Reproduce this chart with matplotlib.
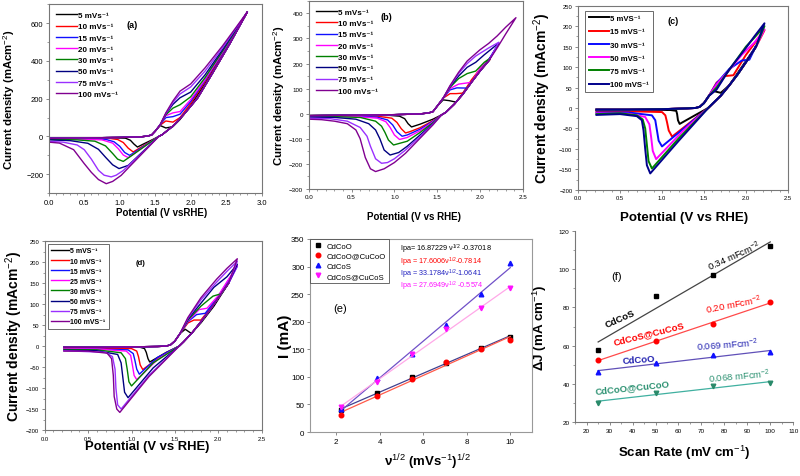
import matplotlib
matplotlib.use("Agg")
import matplotlib.pyplot as plt
import numpy as np

plt.rcParams['font.family'] = ['Liberation Sans', 'DejaVu Sans']
plt.rcParams['mathtext.fontset'] = 'custom'
plt.rcParams['mathtext.rm'] = 'Liberation Sans'
plt.rcParams['mathtext.it'] = 'Liberation Sans:italic'
plt.rcParams['mathtext.bf'] = 'Liberation Sans:bold'

# ---------------- panel (a) ----------------
a_rates = ["5", "10", "15", "20", "30", "50", "75", "100"]
a_colors = ["black", "red", "#1010ff", "#ff00ff", "#008000", "#000080", "#9a30ff", "#800090"]
a_base_E = [0.0, 0.5, 1.0, 1.3, 1.4]
a_base_J = [-10, -8, -5, -2, 3]
a_fwd_E = [1.45, 1.5, 1.57, 1.65, 1.75, 1.85, 2.0, 2.2, 2.45, 2.8]
a_fwd_J = [
    [8, 28, 58, 45, 52, 90, 165, 280, 435, 660],
    [8, 28, 60, 82, 76, 100, 175, 288, 440, 660],
    [8, 28, 62, 100, 105, 118, 185, 295, 445, 660],
    [8, 28, 62, 110, 125, 132, 195, 300, 448, 660],
    [8, 28, 62, 115, 150, 168, 210, 310, 452, 660],
    [8, 28, 62, 120, 170, 205, 235, 325, 460, 660],
    [8, 28, 62, 122, 180, 225, 262, 345, 470, 660],
    [8, 28, 62, 125, 188, 240, 278, 362, 480, 660],
]
a_rev_E = [2.55, 2.3, 2.1, 1.9, 1.75, 1.6]
a_rev_J = [490, 330, 205, 115, 55, 10]
a_cat_E = [
    [1.55, 1.45, 1.35, 1.25, 1.2, 1.15, 1.08, 0.9, 0.0],
    [1.55, 1.45, 1.3, 1.19, 1.12, 1.05, 0.97, 0.85, 0.4, 0.0],
    [1.55, 1.45, 1.3, 1.2, 1.14, 1.07, 1.0, 0.92, 0.8, 0.4, 0.0],
    [1.55, 1.45, 1.3, 1.2, 1.12, 1.05, 0.98, 0.9, 0.75, 0.4, 0.0],
    [1.55, 1.45, 1.3, 1.15, 1.05, 0.97, 0.9, 0.8, 0.65, 0.4, 0.0],
    [1.55, 1.45, 1.3, 1.12, 0.99, 0.9, 0.8, 0.7, 0.55, 0.3, 0.0],
    [1.55, 1.45, 1.3, 1.05, 0.95, 0.88, 0.78, 0.7, 0.6, 0.5, 0.4, 0.2, 0.0],
    [1.55, 1.45, 1.3, 1.15, 1.02, 0.9, 0.81, 0.7, 0.6, 0.5, 0.35, 0.15, 0.0],
]
a_cat_J = [
    [0, -19, -37, -56, -40, -20, -9, -6, -6],
    [0, -23, -57, -82, -62, -32, -16, -10, -9, -9],
    [0, -24, -61, -86, -100, -85, -52, -28, -15, -11, -10],
    [0, -26, -65, -92, -112, -98, -65, -35, -18, -13, -12],
    [0, -26, -66, -106, -132, -120, -90, -50, -25, -18, -15],
    [0, -36, -89, -153, -170, -150, -110, -68, -36, -22, -18],
    [0, -37, -93, -180, -205, -214, -205, -179, -120, -70, -45, -30, -26],
    [0, -39, -97, -155, -206, -238, -250, -228, -190, -144, -70, -35, -30],
]

# ---------------- panel (b) ----------------
b_base_E = [0.0, 0.5, 1.0, 1.3, 1.4]
b_base_J = [-8, -6, -4, -1, 3]
b_fwd_E = [
    [1.45, 1.5, 1.57, 1.64, 1.72, 1.85, 2.0, 2.12],
    [1.45, 1.5, 1.57, 1.65, 1.72, 1.8, 1.9, 2.0, 2.12],
    [1.45, 1.5, 1.57, 1.65, 1.73, 1.85, 1.95, 2.1, 2.22],
    [1.45, 1.5, 1.57, 1.65, 1.75, 1.9, 2.0, 2.12],
    [1.45, 1.5, 1.57, 1.65, 1.75, 1.85, 1.95, 2.05, 2.12],
    [1.45, 1.5, 1.57, 1.65, 1.75, 1.85, 1.95, 2.05, 2.22],
    [1.45, 1.5, 1.57, 1.65, 1.75, 1.85, 1.95, 2.1, 2.22],
    [1.45, 1.5, 1.57, 1.65, 1.75, 1.85, 2.0, 2.1, 2.2, 2.3, 2.42],
]
b_fwd_J = [
    [8, 30, 55, 52, 46, 105, 175, 218],
    [8, 30, 62, 80, 80, 82, 135, 178, 218],
    [8, 30, 62, 95, 103, 102, 150, 215, 280],
    [8, 30, 62, 100, 118, 125, 180, 220],
    [8, 30, 62, 105, 140, 160, 170, 205, 222],
    [8, 30, 62, 108, 150, 185, 205, 235, 282],
    [8, 30, 62, 110, 160, 200, 230, 262, 285],
    [8, 30, 62, 112, 165, 210, 255, 280, 310, 345, 383],
]
b_rev_E = [2.3, 2.2, 2.1, 2.0, 1.9, 1.8, 1.7, 1.6]
b_rev_J = [318, 262, 210, 170, 125, 78, 38, 5]
b_cat_E = [
    [1.55, 1.45, 1.3, 1.2, 1.16, 1.12, 1.06, 0.95, 0.0],
    [1.55, 1.45, 1.3, 1.18, 1.13, 1.08, 1.03, 0.97, 0.8, 0.0],
    [1.55, 1.45, 1.3, 1.15, 1.09, 1.03, 0.98, 0.92, 0.8, 0.4, 0.0],
    [1.55, 1.45, 1.3, 1.15, 1.06, 1.0, 0.95, 0.9, 0.8, 0.5, 0.0],
    [1.55, 1.45, 1.3, 1.15, 0.99, 0.93, 0.89, 0.85, 0.78, 0.6, 0.3, 0.0],
    [1.55, 1.45, 1.3, 1.15, 1.05, 0.95, 0.88, 0.83, 0.78, 0.7, 0.55, 0.3, 0.0],
    [1.55, 1.45, 1.3, 1.13, 1.0, 0.92, 0.85, 0.78, 0.72, 0.68, 0.6, 0.45, 0.25, 0.0],
    [1.55, 1.45, 1.3, 1.13, 1.0, 0.88, 0.78, 0.72, 0.66, 0.6, 0.55, 0.45, 0.3, 0.15, 0.0],
]
b_cat_J = [
    [-5, -22, -42, -53, -40, -20, -10, -7, -7],
    [-5, -28, -56, -72, -77, -60, -35, -18, -10, -8],
    [-5, -30, -62, -85, -90, -72, -45, -25, -14, -9, -9],
    [-5, -33, -68, -95, -103, -85, -55, -32, -18, -10, -10],
    [-5, -36, -75, -110, -125, -105, -75, -50, -30, -15, -12, -11],
    [-5, -40, -85, -130, -155, -165, -145, -100, -65, -40, -22, -15, -14],
    [-5, -42, -92, -145, -180, -195, -198, -180, -130, -90, -55, -30, -20, -18],
    [-5, -45, -98, -158, -195, -220, -231, -220, -175, -100, -65, -40, -30, -24, -22],
]

# ---------------- panel (c) ----------------
c_rates = ["5", "15", "30", "50", "75", "100"]
c_colors = ["black", "red", "#0a0aff", "#ff00ff", "#008000", "#00008b"]
c_base_E = [0.22, 0.6, 1.0, 1.3, 1.4]
c_base_J = [-4, -4, -3, -1, 0]
c_fwd_E = [
    [1.45, 1.5, 1.56, 1.62, 1.7, 1.8, 1.95, 2.12],
    [1.45, 1.5, 1.56, 1.65, 1.75, 1.85, 2.0, 2.22],
    [1.45, 1.5, 1.56, 1.65, 1.8, 1.95, 2.04, 2.12],
    [1.45, 1.5, 1.56, 1.65, 1.8, 1.95, 2.1, 2.22],
    [1.45, 1.5, 1.56, 1.65, 1.8, 2.0, 2.1, 2.22],
    [1.45, 1.5, 1.56, 1.65, 1.8, 2.0, 2.1, 2.22],
]
c_fwd_J = [
    [3, 12, 30, 41, 37, 55, 100, 150],
    [3, 12, 30, 62, 78, 80, 130, 190],
    [3, 12, 30, 60, 95, 116, 118, 152],
    [3, 12, 30, 58, 92, 130, 160, 192],
    [3, 12, 30, 50, 93, 150, 172, 200],
    [3, 12, 30, 45, 94, 147, 175, 207],
]
c_rev_E = [2.12, 2.0, 1.9, 1.8, 1.7, 1.6]
c_rev_J = [150, 112, 82, 55, 30, 10]
c_cat_E = [
    [1.55, 1.4, 1.21, 1.19, 1.18, 1.17, 1.1, 0.22],
    [1.55, 1.3, 1.12, 1.08, 1.06, 1.04, 1.0, 0.6, 0.22],
    [1.55, 1.3, 1.0, 0.96, 0.94, 0.92, 0.88, 0.6, 0.22],
    [1.55, 1.25, 0.93, 0.89, 0.87, 0.85, 0.8, 0.6, 0.22],
    [1.55, 1.2, 0.88, 0.84, 0.82, 0.8, 0.77, 0.7, 0.5, 0.22],
    [1.55, 1.2, 0.86, 0.82, 0.8, 0.78, 0.76, 0.7, 0.5, 0.22],
]
c_cat_J = [
    [0, -17, -39, -30, -15, -7, -5, -5],
    [0, -41, -70, -55, -35, -18, -10, -8, -9],
    [0, -43, -94, -80, -55, -30, -18, -11, -11],
    [0, -56, -125, -105, -70, -40, -22, -14, -13],
    [0, -74, -148, -130, -90, -50, -28, -18, -13, -15],
    [0, -80, -160, -140, -100, -55, -30, -20, -15, -17],
]

# ---------------- panel (d) ----------------
d_rates = ["5", "10", "15", "25", "30", "50", "75", "100"]
d_base_E = [0.22, 0.6, 1.0, 1.3, 1.4]
d_base_J = [-3, -3, -2, -1, 0]
d_fwd_E = [
    [1.45, 1.5, 1.56, 1.62, 1.69, 1.8, 1.95, 2.12],
    [1.45, 1.5, 1.56, 1.65, 1.72, 1.8, 1.95, 2.12],
    [1.45, 1.5, 1.56, 1.65, 1.75, 1.85, 2.0, 2.22],
    [1.45, 1.5, 1.56, 1.65, 1.78, 1.87, 2.0, 2.22],
    [1.45, 1.5, 1.56, 1.65, 1.8, 1.94, 2.04, 2.12],
    [1.45, 1.5, 1.56, 1.65, 1.8, 1.95, 2.1, 2.22],
    [1.45, 1.5, 1.56, 1.65, 1.8, 1.98, 2.1, 2.22],
    [1.45, 1.5, 1.56, 1.65, 1.8, 1.98, 2.1, 2.22],
]
d_fwd_J = [
    [3, 12, 30, 40, 30, 55, 95, 150],
    [3, 12, 30, 55, 62, 62, 100, 150],
    [3, 12, 30, 58, 75, 78, 118, 190],
    [3, 12, 30, 60, 87, 90, 120, 192],
    [3, 12, 30, 62, 95, 119, 125, 150],
    [3, 12, 30, 64, 102, 140, 165, 195],
    [3, 12, 30, 66, 110, 152, 178, 202],
    [3, 12, 30, 68, 115, 159, 185, 208],
]
d_rev_E = [2.12, 2.0, 1.9, 1.8, 1.7, 1.6]
d_rev_J = [150, 115, 85, 58, 32, 10]
d_cat_E = [
    [1.55, 1.4, 1.21, 1.19, 1.17, 1.15, 1.1, 0.22],
    [1.55, 1.35, 1.13, 1.1, 1.08, 1.06, 1.0, 0.22],
    [1.55, 1.3, 1.09, 1.06, 1.04, 1.02, 0.96, 0.22],
    [1.55, 1.3, 1.06, 1.03, 1.01, 0.99, 0.94, 0.6, 0.22],
    [1.55, 1.25, 1.0, 0.97, 0.95, 0.93, 0.88, 0.6, 0.22],
    [1.55, 1.25, 0.96, 0.92, 0.9, 0.88, 0.84, 0.6, 0.22],
    [1.55, 1.2, 0.88, 0.84, 0.82, 0.81, 0.78, 0.7, 0.22],
    [1.55, 1.2, 0.865, 0.83, 0.8, 0.79, 0.77, 0.72, 0.5, 0.22],
]
d_cat_J = [
    [0, -15, -38, -30, -15, -6, -3, -3],
    [0, -22, -56, -45, -25, -12, -6, -4],
    [0, -27, -67, -55, -35, -18, -9, -5],
    [0, -32, -80, -70, -45, -22, -12, -7, -6],
    [0, -40, -95, -85, -55, -30, -16, -9, -8],
    [0, -52, -123, -110, -75, -40, -20, -11, -10],
    [0, -70, -150, -140, -100, -55, -25, -15, -11],
    [0, -73, -158, -150, -120, -70, -30, -17, -12, -12],
]

# ---------------- panel (e) ----------------
e_names = ["CdCoO", "CdCoO@CuCoO", "CdCoS", "CdCoS@CuCoS"]
e_x = [2.236, 3.873, 5.477, 7.071, 8.660, 10.0]
e_y = [
    [39.4, 71.6, 100.0, 125.6, 151.6, 172.9],
    [31.5, 65.0, 97.0, 127.4, 150.0, 167.4],
    [42.5, 98.0, 141.0, 194.0, 250.5, 306.0],
    [45.5, 91.0, 140.7, 186.8, 225.6, 260.8],
]
e_eqs = ["Ipa= 16.87229 \u03bd$^{1/2}$ -0.37018", "Ipa = 17.6006\u03bd$^{1/2}$-0.7814",
         "Ipa = 33.1784\u03bd$^{1/2}$-1.0641", "Ipa = 27.6949\u03bd$^{1/2}$ -0.5574"]

# ---------------- panel (f) ----------------
f_names = ["CdCoS", "CdCoS@CuCoS", "CdCoO", "CdCoO@CuCoO"]
f_rate = [25, 50, 75, 100]
f_dj = [
    [57.5, 86.0, 96.8, 112.1],
    [52.3, 62.4, 71.5, 82.8],
    [46.2, 51.0, 54.9, 56.6],
    [30.1, 35.0, 38.8, 40.2],
]
f_cdl = ["0.34 mFcm$^{-2}$", "0.20 mFcm$^{-2}$", "0.069 mFcm$^{-2}$", "0.068 mFcm$^{-2}$"]


def cv_loop(base_E, base_J, fwd_E, fwd_J, rev_E, rev_J, cat_E, cat_J):
    # forward scan, then back down the common return branch, then the cathodic part
    tip = fwd_E[-1]
    keep = [i for i, e in enumerate(rev_E) if e < tip - 0.04]
    E = base_E + fwd_E + [rev_E[i] for i in keep] + cat_E
    J = base_J + fwd_J + [rev_J[i] for i in keep] + cat_J
    return E, J


def style_cv(ax, xlim, ylim, yticks, ystep_minor, tick_fs, spine="#777777"):
    ax.set_xlim(*xlim)
    ax.set_ylim(*ylim)
    ax.set_xticks(np.arange(0, xlim[1] + 0.01, 0.5))
    ax.set_xticklabels([f"{v:.1f}" for v in np.arange(0, xlim[1] + 0.01, 0.5)])
    ax.set_xticks(np.arange(0, xlim[1] + 0.01, 0.1), minor=True)
    ax.set_yticks(yticks)
    ax.set_yticks(np.arange(ylim[0], ylim[1] + 1, ystep_minor), minor=True)
    ax.tick_params(which="major", length=2.5, width=0.6, labelsize=tick_fs, pad=1.5, color=spine)
    ax.tick_params(which="minor", length=1.5, width=0.5, color=spine)
    for s in ax.spines.values():
        s.set_color(spine)
        s.set_linewidth(0.8)


def cv_legend(ax, anchor, size, spacing, frame):
    leg = ax.legend(loc="upper left", bbox_to_anchor=anchor, frameon=frame, fancybox=False,
                    prop={"weight": "bold", "size": size}, handlelength=2.6, handletextpad=0.1,
                    labelspacing=spacing, borderpad=0.5, borderaxespad=0.4)
    if frame:
        leg.get_frame().set_edgecolor("#444444")
        leg.get_frame().set_linewidth(0.7)
    return leg


fig = plt.figure(figsize=(8, 4.77), dpi=100)

# (a)
ax = fig.add_axes([0.061, 0.593, 0.266, 0.396])
for i, r in enumerate(a_rates):
    E, J = cv_loop(a_base_E, a_base_J, a_fwd_E, a_fwd_J[i], a_rev_E, a_rev_J, a_cat_E[i], a_cat_J[i])
    ax.plot(E, J, color=a_colors[i], lw=1.0, label=f"{r} mVs\u207b\u00b9")
style_cv(ax, (0, 3.0), (-300, 700), [-200, 0, 200, 400, 600], 100, 5.5)
ax.set_ylabel("Current density (mAcm$^{-2}$)", fontsize=8.2, fontweight="bold")
ax.yaxis.set_label_coords(-0.15, 0.5)
ax.set_xlabel("Potential (V vsRHE)", fontsize=7, fontweight="bold")
ax.xaxis.set_label_coords(0.528, -0.075)
ax.text(1.18, 595, "(a)", fontsize=6.5, fontweight="bold", ha="center", va="center")
cv_legend(ax, (0.0, 1.0), 5.8, 0.45, False)

# (b)
ax = fig.add_axes([0.386, 0.602, 0.2675, 0.394])
for i, r in enumerate(a_rates):
    E, J = cv_loop(b_base_E, b_base_J, b_fwd_E[i], b_fwd_J[i], b_rev_E, b_rev_J, b_cat_E[i], b_cat_J[i])
    ax.plot(E, J, color=a_colors[i], lw=1.0, label=f"{r} mVs\u207b\u00b9")
style_cv(ax, (0, 2.5), (-300, 450), list(range(-300, 401, 100)), 50, 4.5)
ax.set_ylabel("Current density (mAcm$^{-2}$)", fontsize=8.2, fontweight="bold")
ax.yaxis.set_label_coords(-0.10, 0.5)
ax.set_xlabel("Potential (V vs RHE)", fontsize=7, fontweight="bold")
ax.xaxis.set_label_coords(0.493, -0.12)
ax.text(0.905, 389, "(b)", fontsize=6.5, fontweight="bold", ha="center", va="center")
cv_legend(ax, (0.0, 1.0), 5.8, 0.45, False)

# (c)
ax = fig.add_axes([0.7225, 0.600, 0.2625, 0.386])
for i, r in enumerate(c_rates):
    E, J = cv_loop(c_base_E, c_base_J, c_fwd_E[i], c_fwd_J[i], c_rev_E, c_rev_J, c_cat_E[i], c_cat_J[i])
    ax.plot(E, J, color=c_colors[i], lw=1.4, label=f"{r} mVS\u207b\u00b9")
style_cv(ax, (0, 2.5), (-200, 250), list(range(-200, 251, 50)), 25, 4.2)
ax.set_ylabel("Current density (mAcm$^{-2}$)", fontsize=10, fontweight="bold")
ax.yaxis.set_label_coords(-0.12, 0.5)
ax.set_xlabel("Potential (V vs RHE)", fontsize=9.6, fontweight="bold")
ax.xaxis.set_label_coords(0.505, -0.115)
ax.text(1.13, 213, "(c)", fontsize=6.5, fontweight="bold", ha="center", va="center")
cv_legend(ax, (0.02, 0.99), 5.6, 0.75, True)

# (d)
ax = fig.add_axes([0.056, 0.0964, 0.271, 0.396])
for i, r in enumerate(d_rates):
    E, J = cv_loop(d_base_E, d_base_J, d_fwd_E[i], d_fwd_J[i], d_rev_E, d_rev_J, d_cat_E[i], d_cat_J[i])
    ax.plot(E, J, color=a_colors[i], lw=1.0, label=f"{r} mVS\u207b\u00b9")
style_cv(ax, (0, 2.5), (-200, 250), list(range(-200, 251, 50)), 25, 4.2)
ax.set_ylabel("Current density (mAcm$^{-2}$)", fontsize=10, fontweight="bold")
ax.yaxis.set_label_coords(-0.09, 0.5)
ax.set_xlabel("Potential (V vs RHE)", fontsize=9.4, fontweight="bold")
ax.xaxis.set_label_coords(0.472, -0.055)
ax.text(1.10, 198, "(d)", fontsize=5.5, fontweight="bold", ha="center", va="center")
cv_legend(ax, (0.0, 1.0), 5.0, 0.45, True)

# (e)
e_mk = ["s", "o", "^", "v"]
e_mc = ["black", "red", "#1010ff", "#ff10ff"]
e_lc = ["#404090", "#ff5a4a", "#7050c8", "#ffa8e8"]
e_tc = ["black", "red", "#2020c0", "#ff10ff"]
ax = fig.add_axes([0.3875, 0.0922, 0.2775, 0.4047])
xs = np.array(e_x)
for i, nm in enumerate(e_names):
    k, b = np.polyfit(xs, e_y[i], 1)
    ax.plot(xs, k * xs + b, color=e_lc[i], lw=0.9)
    ax.plot(xs, e_y[i], e_mk[i], color=e_mc[i], ms=3.3, ls="none", label=nm)
ax.set_xlim(0.8, 11.0)
ax.set_ylim(0, 350)
ax.set_xticks([2, 4, 6, 8, 10])
ax.set_yticks(range(0, 351, 50))
ax.tick_params(length=2.5, width=0.6, labelsize=5.8, pad=1.5, color="#777777")
for s in ax.spines.values():
    s.set_color("#999999")
    s.set_linewidth(0.8)
ax.set_ylabel("I (mA)", fontsize=11, fontweight="bold")
ax.yaxis.set_label_coords(-0.08, 0.5)
ax.set_xlabel("\u03bd$^{1/2}$ (mVs$^{-1}$)$^{1/2}$", fontsize=9.5, fontweight="bold")
ax.xaxis.set_label_coords(0.53, -0.10)
ax.text(2.18, 224, "(e)", fontsize=8, ha="center", va="center")
leg = ax.legend(loc="upper left", bbox_to_anchor=(0.0, 1.0), frameon=True, fancybox=False,
                fontsize=5.6, handlelength=1.2, handletextpad=0.6, labelspacing=0.35,
                borderpad=0.4, borderaxespad=0.0)
leg.get_frame().set_edgecolor("#444444")
leg.get_frame().set_linewidth(0.7)
for i, eq in enumerate(e_eqs):
    ax.text(0.405, 0.950 - i * 0.064, eq, transform=ax.transAxes, fontsize=5.2,
            color=e_tc[i], ha="left", va="center")

# (f)
f_mk = ["s", "o", "^", "v"]
f_mc = ["black", "red", "#1010ff", "#2a8a6a"]
f_lc = ["#444444", "#ff4a4a", "#6050b8", "#40b0a0"]
f_tc = ["black", "red", "#2020b0", "#2a9070"]
f_name_pos = [(34.5, 74.5, 24), (47.0, 66.5, 14), (42.5, 52.8, 4), (40.0, 38.6, 6)]
f_cdl_pos = [(84.5, 107.5, 24), (84.0, 81.5, 11), (81.5, 60.5, 4), (86.5, 44.0, 5)]
ax = fig.add_axes([0.719, 0.1132, 0.2725, 0.4004])
xr = np.array(f_rate)
for i, nm in enumerate(f_names):
    k, b = np.polyfit(xr, f_dj[i], 1)
    ax.plot(xr, k * xr + b, color=f_lc[i], lw=0.9)
    ax.plot(xr, f_dj[i], f_mk[i], color=f_mc[i], ms=3.3, ls="none")
    x0, y0, rot = f_name_pos[i]
    ax.text(x0, y0, nm, color=f_tc[i], fontsize=6.8, fontweight="bold", rotation=rot,
            ha="center", va="center")
    x1, y1, rot1 = f_cdl_pos[i]
    ax.text(x1, y1, f_cdl[i], color=f_tc[i], fontsize=6.8, rotation=rot1,
            ha="center", va="center")
ax.set_xlim(15, 110)
ax.set_ylim(20, 120)
ax.set_xticks(range(20, 111, 10))
ax.set_xticks(range(15, 111, 5), minor=True)
ax.set_yticks(range(20, 121, 20))
ax.set_yticks(range(20, 121, 10), minor=True)
ax.tick_params(which="major", length=2.5, width=0.6, labelsize=4.6, pad=1.5, color="#777777")
ax.tick_params(which="minor", length=1.5, width=0.5, color="#777777")
ax.spines["top"].set_visible(False)
ax.spines["right"].set_visible(False)
for s in ["left", "bottom"]:
    ax.spines[s].set_color("#777777")
    ax.spines[s].set_linewidth(0.8)
ax.set_ylabel("\u0394J (mA cm$^{-1}$)", fontsize=9.6, fontweight="bold")
ax.yaxis.set_label_coords(-0.12, 0.5)
ax.set_xlabel("Scan Rate (mV cm$^{-1}$)", fontsize=9.5, fontweight="bold")
ax.xaxis.set_label_coords(0.5, -0.11)
ax.text(33, 96.4, "(f)", fontsize=8, ha="center", va="center")

fig.savefig("out.png", dpi=100)
